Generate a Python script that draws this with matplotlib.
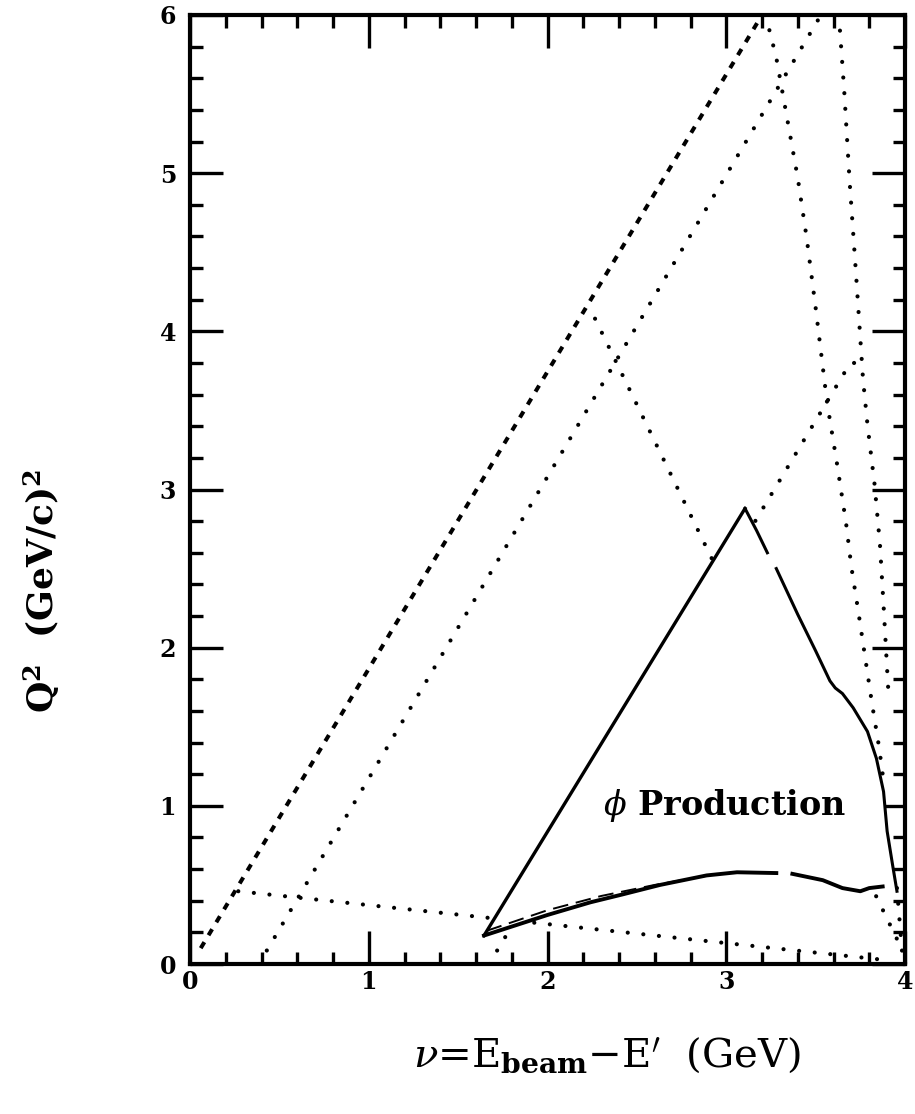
import numpy as np
import matplotlib.pyplot as plt
from matplotlib.ticker import MultipleLocator

plt.rcParams["font.family"] = ["DejaVu Serif"]
plt.rcParams["mathtext.fontset"] = "dejavuserif"

# kinematic limits in the (nu, Q^2) plane, nu in GeV, Q^2 in (GeV/c)^2
dash_nu = [0.06, 3.20]
dash_q2 = [0.10, 6.00]

lineA_nu = [0.385, 3.53]
lineA_q2 = [0.00, 6.00]

lineB_nu = [2.266, 3.98]
lineB_q2 = [4.08, 0.10]

lineE_nu = [1.673, 3.694, 3.78]
lineE_q2 = [0.00, 3.80, 3.80]

low_nu = [0.27, 3.85]
low_q2 = [0.46, 0.03]

lineC_nu = [3.22, 3.28, 3.34, 3.40, 3.45, 3.50, 3.564, 3.62, 3.67, 3.70,
            3.74, 3.79, 3.815, 3.855, 3.875]
lineC_q2 = [6.00, 5.73, 5.35, 4.97, 4.59, 4.15, 3.55, 3.16, 2.79, 2.51,
            2.22, 1.84, 1.65, 1.37, 1.20]

lineD_nu = [3.63, 3.66, 3.69, 3.725, 3.765, 3.79, 3.83, 3.86, 3.88, 3.91]
lineD_q2 = [6.00, 5.52, 4.95, 4.38, 3.70, 3.41, 3.03, 2.65, 2.27, 1.66]

stub_nu = [3.955, 3.985]
stub_q2 = [0.48, 0.06]

# phi production region (nan = break in the drawn curve)
left_nu = [1.645, 3.105]
left_q2 = [0.18, 2.88]

right_nu = [3.105, 3.17, 3.23, np.nan, 3.28, 3.40, 3.50, 3.58, 3.61, 3.65,
            3.71, 3.79, 3.84, 3.88, 3.90, 3.93, 3.955]
right_q2 = [2.88, 2.74, 2.60, np.nan, 2.50, 2.21, 1.98, 1.79, 1.745, 1.71,
            1.62, 1.47, 1.30, 1.09, 0.84, 0.63, 0.46]

bottom_nu = [1.645, 2.00, 2.24, 2.42, 2.63, 2.89, 3.06, 3.28, np.nan,
             3.37, 3.54, 3.65, 3.75, 3.80, 3.875]
bottom_q2 = [0.18, 0.31, 0.39, 0.44, 0.50, 0.56, 0.58, 0.575, np.nan,
             0.57, 0.53, 0.48, 0.46, 0.48, 0.49]

alt_nu = [1.66, 2.00, 2.30, 2.60, 2.95]
alt_q2 = [0.21, 0.34, 0.43, 0.50, 0.57]

fig = plt.figure(figsize=(9.15, 11.14), dpi=100)
ax = fig.add_axes([190 / 915, 1 - 964 / 1114, 715 / 915, 949 / 1114])

dot_kw = dict(color="black", lw=3.0, linestyle=(0, (0.01, 3.75)),
              dash_capstyle="round", zorder=2)
ax.plot(dash_nu, dash_q2, color="black", lw=2.9,
        linestyle=(0, (1.75, 2.0)), dash_capstyle="butt", zorder=2)
for xs, ys in [(lineA_nu, lineA_q2), (lineB_nu, lineB_q2),
               (lineE_nu, lineE_q2), (low_nu, low_q2),
               (lineC_nu, lineC_q2), (lineD_nu, lineD_q2),
               (stub_nu, stub_q2)]:
    ax.plot(xs, ys, **dot_kw)

# blank out the region interior, then draw its boundary
rn = [v for v in right_nu if v == v]
rq = [v for v in right_q2 if v == v]
bn = [v for v in bottom_nu if v == v][::-1]
bq = [v for v in bottom_q2 if v == v][::-1]
ax.fill(left_nu + rn[1:] + bn[1:], left_q2 + rq[1:] + bq[1:],
        color="white", lw=0, zorder=3)

ax.plot(left_nu, left_q2, color="black", lw=2.4, zorder=4)
ax.plot(right_nu, right_q2, color="black", lw=2.2, zorder=4)
ax.plot(bottom_nu, bottom_q2, color="black", lw=2.8, zorder=4)
ax.plot(alt_nu, alt_q2, color="black", lw=1.4, linestyle=(0, (8, 4)),
        zorder=4)

ax.text(2.99, 0.94, r"$\phi$ Production", fontsize=24, fontweight="bold",
        ha="center", va="baseline", zorder=5)

ax.set_xlim(0, 4)
ax.set_ylim(0, 6)
ax.xaxis.set_major_locator(MultipleLocator(1))
ax.xaxis.set_minor_locator(MultipleLocator(0.2))
ax.yaxis.set_major_locator(MultipleLocator(1))
ax.yaxis.set_minor_locator(MultipleLocator(0.2))
ax.tick_params(which="both", direction="in", top=True, right=True,
               width=2.4, color="black")
ax.tick_params(which="major", length=24)
ax.tick_params(which="minor", length=9)
ax.tick_params(axis="x", pad=4)
ax.tick_params(axis="y", pad=10)
for lab in ax.get_xticklabels() + ax.get_yticklabels():
    lab.set_fontsize(17)
    lab.set_fontweight("bold")
for sp in ax.spines.values():
    sp.set_linewidth(3.0)

fig.text(607 / 915, 1 - 1067 / 1114,
         r"$\nu$=E$_{\mathbf{beam}}$$-$E$^{\prime}$  (GeV)",
         fontsize=29, ha="center", va="baseline")
fig.text(42 / 915, 1 - 591 / 1114,
         r"Q$^{\mathbf{2}}$  (GeV/c)$^{\mathbf{2}}$",
         fontsize=26, fontweight="bold", rotation=90,
         ha="center", va="center")

fig.savefig("out.png", dpi=100)
